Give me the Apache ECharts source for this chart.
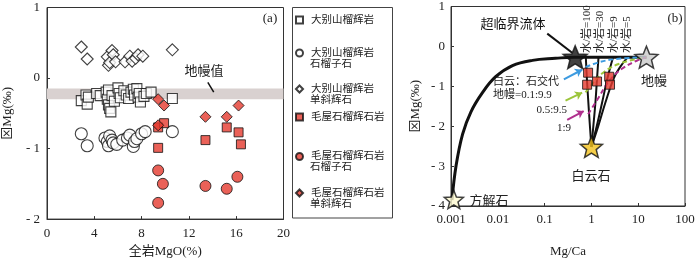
<!DOCTYPE html>
<html><head><meta charset="utf-8">
<script src="https://cdn.jsdelivr.net/npm/echarts@6/dist/echarts.min.js"></script>
<style>html,body{margin:0;padding:0;background:#fff}#c{width:700px;height:263px}</style>
</head><body><div id="c"></div>
<script>
const FONT = '"Liberation Serif","Noto Sans CJK SC",serif';
// ---------- Panel (a) data: [whole-rock MgO %, δ26Mg ‰] ----------
const dbsWholeRock = [[2.9,-0.32],[3.3,-0.24],[3.4,-0.37],[3.5,-0.27],[4.2,-0.22],[4.5,-0.25],[5.0,-0.20],[5.1,-0.30],[5.2,-0.17],[5.2,-0.38],[5.3,-0.43],[5.4,-0.48],[5.5,-0.25],[5.7,-0.33],[6.0,-0.14],[6.1,-0.22],[6.2,-0.28],[6.5,-0.18],[6.7,-0.24],[6.9,-0.29],[7.1,-0.20],[7.3,-0.16],[7.4,-0.24],[7.6,-0.15],[7.7,-0.27],[7.8,-0.22],[7.9,-0.34],[8.2,-0.26],[8.4,-0.22],[8.8,-0.20],[10.6,-0.29]];
const dbsGarnet = [[2.9,-0.79],[3.4,-0.96],[4.9,-0.85],[5.1,-0.90],[5.2,-0.96],[5.3,-0.82],[5.5,-0.88],[5.6,-0.92],[5.9,-0.94],[6.4,-0.88],[6.8,-0.85],[7.0,-0.81],[7.3,-0.97],[7.4,-0.90],[7.6,-0.86],[8.0,-0.79],[8.3,-0.76],[10.6,-0.76]];
const dbsCpx = [[2.9,0.44],[3.4,0.27],[5.1,0.30],[5.2,0.18],[5.3,0.22],[5.5,0.39],[5.6,0.33],[5.8,0.23],[6.6,0.23],[7.0,0.31],[7.2,0.24],[7.5,0.28],[7.7,0.33],[8.1,0.31],[10.6,0.40]];
const mwWholeRock = [[9.4,-0.70],[9.9,-0.64],[9.4,-0.99],[13.4,-0.88],[15.2,-0.70],[16.2,-0.77],[16.4,-0.94]];
const mwGarnet = [[9.4,-1.31],[9.8,-1.50],[9.4,-1.77],[13.4,-1.53],[15.2,-1.57],[16.1,-1.40]];
const mwCpx = [[9.4,-0.30],[9.9,-0.39],[9.4,-0.67],[13.4,-0.55],[15.2,-0.55],[16.2,-0.39]];
const mantleBand = [-0.30, -0.15];
const mantleBandPointer = [[13.6,-0.06],[14.1,-0.20]];
const yTicksA = [-2,-1,0,1];
const yTickLabelsA = ['- 2','- 1','0','1'];

// ---------- Panel (b) data: [Mg/Ca, δ26Mg ‰] ----------
const fluidCurve = [[0.00105,-3.85],[0.00128,-3.0],[0.00177,-2.2],[0.00267,-1.64],[0.0047,-1.16],[0.009,-0.76],[0.0206,-0.48],[0.055,-0.35],[0.17,-0.30],[0.42,-0.27],[15,-0.27]];
const wr100 = [[1.0,-2.52],[0.93,-2.0],[0.86,-1.4],[0.80,-0.8],[0.76,-0.27]];
const wr30 = [[1.0,-2.52],[1.1,-2.0],[1.22,-1.4],[1.32,-0.8],[1.42,-0.27]];
const wr9 = [[1.0,-2.52],[1.3,-2.0],[1.7,-1.4],[2.2,-0.8],[2.9,-0.27]];
const wr5 = [[1.0,-2.52],[1.4,-2.0],[2.0,-1.4],[3.0,-0.8],[4.2,-0.5],[6.0,-0.27]];
const mix01 = [[0.75,-0.52],[1.43,-0.40],[3.2,-0.32],[15,-0.27]];
const mix05 = [[0.75,-1.15],[0.95,-1.0],[1.69,-0.68],[3.8,-0.44],[10.8,-0.30],[15,-0.27]];
const mix1 = [[0.85,-1.7],[1.43,-1.28],[2.34,-0.88],[4.5,-0.56],[9.3,-0.36],[15,-0.27]];
const mwWholeRockB = [[0.85,-0.66],[0.81,-0.96],[1.32,-0.88],[2.4,-0.76],[2.5,-0.96]];
const starFluid = [[0.45,-0.27]];
const starMantle = [[15,-0.27]];
const starDolomite = [[1.0,-2.52]];
const starCalcite = [[0.00115,-3.84]];
const arrow01 = [[0.258,-0.825],[0.634,-0.585]];
const arrow05 = [[0.28,-1.36],[0.634,-1.16]];
const arrow1 = [[0.304,-1.84],[0.685,-1.62]];
const fluidPointer = [[0.114,0.32],[0.388,-0.16]];
const xTicksB = [0.001,0.01,0.1,1,10,100];
const yTicksB = [-4,-3,-2,-1,0,1];
const yTickLabelsB = ['- 4','- 3','- 2','- 1','0','1'];

const legendNames = ['大别山榴辉岩','大别山榴辉岩石榴子石','大别山榴辉岩单斜辉石','毛屋石榴辉石岩','毛屋石榴辉石岩石榴子石','毛屋石榴辉石岩单斜辉石'];
const legendLine1 = ['大别山榴辉岩','大别山榴辉岩','大别山榴辉岩','毛屋石榴辉石岩','毛屋石榴辉石岩','毛屋石榴辉石岩'];
const legendLine2 = ['','石榴子石','单斜辉石','','石榴子石','单斜辉石'];

const STAR = 'path://M50,0L62.9,32.2L97.6,34.5L70.9,56.8L79.4,90.5L50,72L20.6,90.5L29.1,56.8L2.4,34.5L37.1,32.2Z';
const RED = '#e5392e';
const openStyle = {color:'#fff', borderColor:'#111', borderWidth:1.1};
const redStyle = {color:RED, borderColor:'#111', borderWidth:1};

function yLabB(v){ const i = yTicksB.indexOf(v); return i>=0 ? yTickLabelsB[i] : ''; }
function yLabA(v){ const i = yTicksA.indexOf(v); return i>=0 ? yTickLabelsA[i] : ''; }

const axisCommon = {
  axisLine:{onZero:false, lineStyle:{color:'#333',width:1}},
  axisTick:{inside:true,length:3,lineStyle:{color:'#333'}},
  splitLine:{show:false},
  nameTextStyle:{fontFamily:FONT,fontSize:13,color:'#222'},
};

// legend row centres (px) of first text line
const legendRowY = [20, 53, 89, 117, 156.5, 193];
const LEG_LEFT = 295;
const LEG_FS = 10.5;
const legends = legendNames.map((n,i)=>({
  data:[n], left:LEG_LEFT, top:legendRowY[i]-5.5, padding:0,
  itemWidth:7, itemHeight:7, itemGap:0, selectedMode:false,
  formatter:()=>legendLine1[i],
  textStyle:{fontFamily:FONT,fontSize:LEG_FS,lineHeight:11,color:'#222',padding:[0,0,0,3]}
}));

function curve(data, color, width, dashed){
  return {type:'line', xAxisIndex:1, yAxisIndex:1, data, smooth:0.4,
    symbol:'none', silent:true, z:2,
    lineStyle:{color, width, type: dashed ? [5,3] : 'solid'}};
}
function arrow(coords, color){
  return {type:'lines', coordinateSystem:'cartesian2d', xAxisIndex:1, yAxisIndex:1, z:4,
    symbol:['none','arrow'], symbolSize:7, silent:true,
    lineStyle:{color, width:2, opacity:1}, data:[{coords}]};
}
function star(data, fill, size, z){
  return {type:'scatter', xAxisIndex:1, yAxisIndex:1, data, symbol:STAR, symbolKeepAspect:true,
    symbolSize:size, z:z||6, silent:true,
    itemStyle:{color:fill, borderColor:'#111', borderWidth:1.5}};
}
function txt(x,y,text,opt){
  return {type:'text', x, y, silent:true,
    style:Object.assign({text, fontFamily:FONT, fontSize:13, fill:'#222', align:'center', verticalAlign:'middle'}, opt||{})};
}
function vtxt(x,y,text){
  return {type:'text', x, y, rotation:Math.PI/2, silent:true,
    style:{text, fontFamily:FONT, fontSize:11, fill:'#222', align:'left', verticalAlign:'middle'}};
}

const legendSecondLines = legendLine2.map((t,i)=> t ? txt(LEG_LEFT+7+5+3, legendRowY[i]+11, t, {fontSize:LEG_FS, align:'left'}) : null).filter(Boolean);

const option = {
  animation:false,
  backgroundColor:'#fff',
  grid:[
    {left:45, top:7.5, width:238.5, height:212.5, show:true, borderColor:'#333', borderWidth:1, backgroundColor:'transparent'},
    {left:451, top:6, width:234, height:209, show:true, borderColor:'#333', borderWidth:1, backgroundColor:'transparent'}
  ],
  xAxis:[
    Object.assign({}, axisCommon, {gridIndex:0, type:'value', min:0, max:20, interval:4,
      name:'全岩MgO(%)', nameLocation:'middle', nameGap:24,
      axisLabel:{fontFamily:FONT,fontSize:13,color:'#222',margin:8}}),
    Object.assign({}, axisCommon, {gridIndex:1, type:'log', logBase:10, min:0.001, max:100,
      name:'Mg/Ca', nameLocation:'middle', nameGap:39,
      axisLabel:{fontFamily:FONT,fontSize:13,color:'#222',margin:7,
        formatter:v=>{const i = xTicksB.findIndex(t=>Math.abs(Math.log10(t)-Math.log10(v))<1e-6); return i>=0?String(xTicksB[i]):'';}},
      minorTick:{show:false}})
  ],
  yAxis:[
    Object.assign({}, axisCommon, {gridIndex:0, type:'value', min:-2, max:1, interval:1,
      name:'⊠Mg(‰)', nameLocation:'middle', nameGap:33,
      axisLabel:{fontFamily:FONT,fontSize:13,color:'#222',margin:7,formatter:yLabA}}),
    Object.assign({}, axisCommon, {gridIndex:1, type:'value', min:-4, max:1, interval:1,
      name:'⊠Mg(‰)', nameLocation:'middle', nameGap:29,
      axisLabel:{fontFamily:FONT,fontSize:13,color:'#222',margin:6,formatter:yLabB}})
  ],
  legend: legends,
  graphic:[
    {type:'rect', shape:{x:292.5,y:7.5,width:100,height:210.5}, style:{fill:'none',stroke:'#444',lineWidth:1}, silent:true},
    txt(204,72,'地幔值',{fontSize:13}),
    txt(270,19,'(a)',{fontSize:13}),
    txt(675,19,'(b)',{fontSize:13}),
    txt(513,25,'超临界流体',{fontSize:13,fill:'#111'}),
    txt(654,82,'地幔',{fontSize:13}),
    txt(591,177,'白云石',{fontSize:13}),
    txt(489,202,'方解石',{fontSize:13}),
    txt(493,82,'白云：石交代',{fontSize:11,align:'left'}),
    txt(493,95,'地幔=0.1:9.9',{fontSize:11,align:'left'}),
    txt(567,110,'0.5:9.5',{fontSize:11,align:'right'}),
    txt(571,128,'1:9',{fontSize:11,align:'right'}),
    vtxt(587,53,'水/岩=100'),
    vtxt(600,53,'水/岩=30'),
    vtxt(614,53,'水/岩=9'),
    vtxt(627,53,'水/岩=5')
  ].concat(legendSecondLines),
  series:[
    {name:legendNames[0], type:'scatter', xAxisIndex:0, yAxisIndex:0, data:dbsWholeRock, symbol:'rect', symbolSize:10, itemStyle:openStyle, z:3,
      markArea:{silent:true, itemStyle:{color:'#d9d1d0'}, data:[[{yAxis:mantleBand[1]},{yAxis:mantleBand[0]}]]}},
    {name:legendNames[1], type:'scatter', xAxisIndex:0, yAxisIndex:0, data:dbsGarnet, symbol:'circle', symbolSize:12, itemStyle:openStyle, z:3},
    {name:legendNames[2], type:'scatter', xAxisIndex:0, yAxisIndex:0, data:dbsCpx, symbol:'diamond', symbolSize:12, itemStyle:openStyle, z:3},
    {name:legendNames[3], type:'scatter', xAxisIndex:0, yAxisIndex:0, data:mwWholeRock, symbol:'rect', symbolSize:9, itemStyle:redStyle, z:4},
    {name:legendNames[4], type:'scatter', xAxisIndex:0, yAxisIndex:0, data:mwGarnet, symbol:'circle', symbolSize:11, itemStyle:redStyle, z:4},
    {name:legendNames[5], type:'scatter', xAxisIndex:0, yAxisIndex:0, data:mwCpx, symbol:'diamond', symbolSize:11, itemStyle:redStyle, z:5},
    {type:'lines', coordinateSystem:'cartesian2d', xAxisIndex:0, yAxisIndex:0, silent:true, symbol:'none',
      lineStyle:{color:'#111',width:1.5,opacity:1}, data:[{coords:mantleBandPointer}]},
    // panel b
    curve(fluidCurve,'#111',3,false),
    curve(wr100,'#111',2,false),
    curve(wr30,'#111',2,false),
    curve(wr9,'#111',2,false),
    curve(wr5,'#111',2,false),
    curve(mix01,'#3d9be0',2,true),
    curve(mix05,'#9cc53a',2,true),
    curve(mix1,'#b0308e',2,true),
    arrow(arrow01,'#3d9be0'),
    arrow(arrow05,'#9cc53a'),
    arrow(arrow1,'#b0308e'),
    {type:'lines', coordinateSystem:'cartesian2d', xAxisIndex:1, yAxisIndex:1, silent:true, symbol:'none',
      lineStyle:{color:'#111',width:2,opacity:1}, data:[{coords:fluidPointer}]},
    {name:legendNames[3], type:'scatter', xAxisIndex:1, yAxisIndex:1, data:mwWholeRockB, symbol:'rect', symbolSize:9, itemStyle:redStyle, z:5},
    star(starFluid,'#111',24,7),
    star(starMantle,'#c9c9c9',23,7),
    star(starDolomite,'#f2c21c',22,7),
    star(starCalcite,'#fffbd2',19,7)
  ]
};
const chart = echarts.init(document.getElementById('c'), null, {renderer:'canvas'});
chart.setOption(option);
</script>
</body></html>
